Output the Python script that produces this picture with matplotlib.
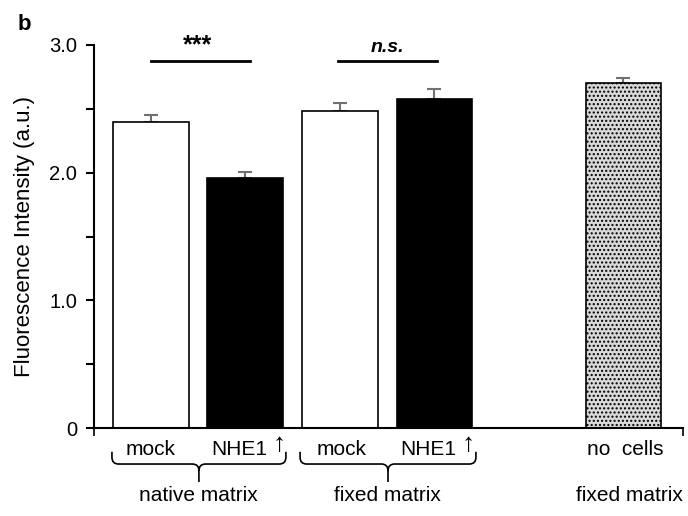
import numpy as np
import matplotlib.pyplot as plt
from matplotlib.path import Path
from matplotlib.patches import PathPatch
import matplotlib.transforms as mtransforms

plt.rcParams['font.family'] = ['Liberation Sans', 'DejaVu Sans']
plt.rcParams['hatch.linewidth'] = 1.0

# data
positions = [0, 1, 2, 3, 5]
means = [2.40, 1.96, 2.48, 2.58, 2.70]
errors = [0.055, 0.045, 0.065, 0.075, 0.04]
faces = ['white', 'black', 'white', 'black', '#d9d9d9']
hatches = [None, None, None, None, '....']

sub_labels = ['mock', 'NHE1', 'mock', 'NHE1']
sub_x = [0, 0.94, 2.02, 2.94]
group_labels = ['native matrix', 'fixed matrix', 'fixed matrix']
group_x = [0.5, 2.5, 5.06]
yticks = [0, 1.0, 2.0, 3.0]
ytick_labels = ['0', '1.0', '2.0', '3.0']


def brace(ax, x0, x1, trans):
    xc = (x0 + x1) / 2
    yt, yh, ry, ytip = -0.062, -0.094, 0.018, -0.141
    rx = 0.07
    verts = [(x0, yt), (x0, yh + ry), (x0, yh), (x0 + rx, yh),
             (xc - rx, yh), (xc, yh), (xc, yh - ry), (xc, ytip),
             (xc, yh - ry), (xc, yh), (xc + rx, yh),
             (x1 - rx, yh), (x1, yh), (x1, yh + ry), (x1, yt)]
    codes = [Path.MOVETO, Path.LINETO, Path.CURVE3, Path.CURVE3,
             Path.LINETO, Path.CURVE3, Path.CURVE3, Path.LINETO,
             Path.MOVETO, Path.CURVE3, Path.CURVE3,
             Path.LINETO, Path.CURVE3, Path.CURVE3, Path.LINETO]
    ax.add_patch(PathPatch(Path(verts, codes), fill=False, lw=1.2,
                           color='black', transform=trans, clip_on=False))


fig = plt.figure(figsize=(6.88, 5.16), dpi=100)
ax = fig.add_axes([0.1366, 0.1705, 0.8561, 0.7423])

for p, m, e, fc, h in zip(positions, means, errors, faces, hatches):
    ax.bar(p, m, width=0.8, color=fc, edgecolor='black', linewidth=1.2,
           hatch=h, zorder=2)
    ax.errorbar(p, m, yerr=[[0], [e]], color='#707070', capsize=5,
                elinewidth=1.5, capthick=1.5, zorder=1)

ax.set_xlim(-0.6, 5.63)
ax.set_ylim(0, 3.0)
ax.set_yticks(yticks)
ax.set_yticklabels(ytick_labels, fontsize=14.5)
ax.set_yticks([0.5, 1.5, 2.5], minor=True)
ax.set_xticks([-0.6, 5.63])
ax.set_xticklabels([])
ax.tick_params(axis='y', which='both', direction='out', length=6, width=1.5, pad=6)
ax.tick_params(axis='x', direction='out', length=6, width=1.2)
for s in ['top', 'right']:
    ax.spines[s].set_visible(False)
ax.spines['left'].set_linewidth(1.5)
ax.spines['bottom'].set_linewidth(1.5)
ax.set_ylabel('Fluorescence Intensity (a.u.)', fontsize=16)
ax.yaxis.set_label_coords(-0.1, 0.5)

# significance bars
ax.plot([0, 1.05], [2.875, 2.875], color='black', lw=2)
ax.text(0.5, 2.9, '***', ha='center', va='bottom', fontsize=18, fontweight='bold')
ax.plot([1.98, 3.03], [2.875, 2.875], color='black', lw=2)
ax.text(2.5, 2.91, 'n.s.', ha='center', va='bottom', fontsize=14,
        fontweight='bold', fontstyle='italic')

trans = mtransforms.blended_transform_factory(ax.transData, ax.transAxes)
for x, lab in zip(sub_x, sub_labels):
    ax.text(x, -0.057, lab, transform=trans, ha='center', va='center', fontsize=15)
for x in [1.36, 3.36]:
    ax.text(x, -0.042, '\u2191', transform=trans, ha='center', va='center', fontsize=19)
ax.text(5.02, -0.057, 'no  cells', transform=trans, ha='center', va='center', fontsize=15)
for x, lab in zip(group_x, group_labels):
    ax.text(x, -0.175, lab, transform=trans, ha='center', va='center', fontsize=15)

brace(ax, -0.41, 1.43, trans)
brace(ax, 1.58, 3.44, trans)

fig.text(0.025, 0.952, 'b', fontsize=16, fontweight='bold', ha='left', va='center')

fig.savefig('out.png', dpi=100)
